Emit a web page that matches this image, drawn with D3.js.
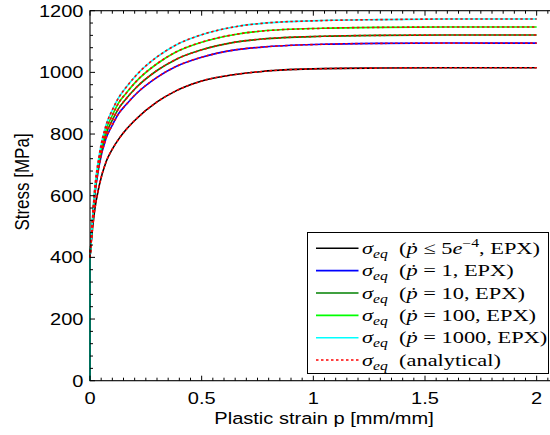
<!DOCTYPE html>
<html>
<head>
<meta charset="utf-8">
<script src="https://cdn.jsdelivr.net/npm/d3@7"></script>
<style>
  body { margin: 0; background: #fff; }
  text { font-family: "Liberation Sans", Arial, sans-serif; }
  .leg text { font-family: "Liberation Serif", "DejaVu Serif", serif; }
</style>
</head>
<body>
<div id="app"></div>
<script>
// plastic strain samples (mm/mm)
const strain = [0, 0.005, 0.02, 0.042, 0.072, 0.1, 0.13, 0.16, 0.206, 0.3, 0.385, 0.5, 0.65, 0.77, 1.04, 1.3, 1.6, 2.0];

// stress (MPa) per strain rate
const stressQuasi = [400, 445, 548, 635, 710, 751, 785, 813, 848, 904, 940, 972, 993, 1003, 1012, 1014, 1015, 1015];
const stressRate1 = [400, 449, 591, 701, 786, 829, 868, 894, 930, 984, 1019, 1049, 1073, 1082, 1091, 1094, 1095, 1095];
const stressRate10 = [400, 451, 598, 712, 800, 845, 885, 913, 950, 1006, 1042, 1073, 1098, 1108, 1117, 1120, 1121, 1121];
const stressRate100 = [400, 453, 605, 723, 815, 861, 903, 931, 970, 1028, 1066, 1098, 1123, 1134, 1143, 1146, 1147, 1147];
const stressRate1000 = [400, 455, 613, 735, 829, 878, 920, 950, 990, 1050, 1089, 1122, 1148, 1159, 1168, 1171, 1173, 1173];

const xTicks = [0, 0.5, 1, 1.5, 2];
const yTicks = [0, 200, 400, 600, 800, 1000, 1200];

const series = [
  { name: "quasi", stress: stressQuasi, color: "#000000", label: ["\u2264 5", "e", "\u22124", ", EPX)"] },
  { name: "r1", stress: stressRate1, color: "#0000ff", label: ["= 1, EPX)"] },
  { name: "r10", stress: stressRate10, color: "#008000", label: ["= 10, EPX)"] },
  { name: "r100", stress: stressRate100, color: "#00ff00", label: ["= 100, EPX)"] },
  { name: "r1000", stress: stressRate1000, color: "#00ffff", label: ["= 1000, EPX)"] }
];

const W = 550, H = 435;
const plot = { left: 90, top: 10.7, right: 559, bottom: 380.7 };
const sx = 1.18; // text looks stretched sideways in the reference
const fsAxis = 17;

const x = d3.scaleLinear().domain([0, 2.1]).range([plot.left, plot.right]);
const y = d3.scaleLinear().domain([0, 1200]).range([plot.bottom, plot.top]);

const svg = d3.select("#app").append("svg")
  .attr("width", W).attr("height", H);

svg.append("rect")
  .attr("x", plot.left).attr("y", plot.top)
  .attr("width", plot.right - plot.left).attr("height", plot.bottom - plot.top)
  .attr("fill", "#fff");

const line = d3.line()
  .x((d) => x(d[0]))
  .y((d) => y(d[1]))
  .curve(d3.curveMonotoneX);

const pts = (s) => strain.map((p, i) => [p, s.stress[i]]);

// EPX curves: elastic vertical part then plastic hardening
const curves = svg.append("g");
series.forEach((s) => {
  curves.append("line")
    .attr("x1", x(0)).attr("x2", x(0))
    .attr("y1", y(0)).attr("y2", y(s.stress[0]))
    .attr("stroke", s.color).attr("stroke-width", 1.6);
  curves.append("path")
    .attr("d", line(pts(s)))
    .attr("fill", "none")
    .attr("stroke", s.color)
    .attr("stroke-width", 1.6);
});

// analytical, red dotted on top
series.forEach((s) => {
  curves.append("path")
    .attr("d", line(pts(s)))
    .attr("fill", "none")
    .attr("stroke", "#ff0000")
    .attr("stroke-width", 1.6)
    .attr("stroke-dasharray", "2.5,2.5");
});

// frame
svg.append("rect")
  .attr("x", plot.left).attr("y", plot.top)
  .attr("width", plot.right - plot.left).attr("height", plot.bottom - plot.top)
  .attr("fill", "none").attr("stroke", "#000").attr("stroke-width", 1.1);

// ticks, inward on all sides
const ax = svg.append("g").attr("stroke", "#000").attr("stroke-width", 1);
d3.range(0, 2.1001, 0.05).forEach((v) => {
  const major = Math.abs(v / 0.5 - Math.round(v / 0.5)) < 1e-6;
  const len = major ? 5 : 3;
  ax.append("line").attr("x1", x(v)).attr("x2", x(v))
    .attr("y1", plot.bottom).attr("y2", plot.bottom - len);
  ax.append("line").attr("x1", x(v)).attr("x2", x(v))
    .attr("y1", plot.top).attr("y2", plot.top + len);
});
d3.range(0, 1200.01, 40).forEach((v) => {
  const major = v % 200 === 0;
  const len = major ? 5 : 3;
  ax.append("line").attr("y1", y(v)).attr("y2", y(v))
    .attr("x1", plot.left).attr("x2", plot.left + len);
});

svg.append("g").selectAll("text").data(xTicks).join("text")
  .attr("transform", (d) => `translate(${x(d)},404) scale(${sx},1)`)
  .attr("text-anchor", "middle").attr("font-size", fsAxis)
  .text((d) => d);

svg.append("g").selectAll("text").data(yTicks).join("text")
  .attr("transform", (d) => `translate(83.5,${y(d) + 6}) scale(${sx},1)`)
  .attr("text-anchor", "end").attr("font-size", fsAxis)
  .text((d) => d);

svg.append("text")
  .attr("transform", `translate(324,424) scale(${sx},1)`)
  .attr("text-anchor", "middle").attr("font-size", fsAxis)
  .text("Plastic strain p [mm/mm]");

svg.append("text")
  .attr("transform", `translate(29.4,182) scale(${sx},1) rotate(-90)`)
  .attr("text-anchor", "middle").attr("font-size", fsAxis)
  .text("Stress [MPa]");

// legend
const leg = svg.append("g").attr("class", "leg");
leg.append("rect")
  .attr("x", 307.5).attr("y", 232.5).attr("width", 241).attr("height", 141)
  .attr("fill", "#fff").attr("stroke", "#000").attr("stroke-width", 1);

const rowY = (i) => 248.3 + i * 22.35;
const fs = 17;
const textX = 362;
const legTexts = [];

function sigmaEq(t) {
  t.append("tspan").attr("font-style", "italic").text("\u03c3");
  t.append("tspan").attr("font-style", "italic").attr("font-size", fs * 0.7)
    .attr("dy", 4).text("eq");
  t.append("tspan").attr("dy", -4).text("\u2002(");
}

series.forEach((s, i) => {
  const yy = rowY(i);
  leg.append("line").attr("x1", 316).attr("x2", 358.5)
    .attr("y1", yy).attr("y2", yy)
    .attr("stroke", s.color).attr("stroke-width", 1.6);
  const t = leg.append("text").attr("font-size", fs).attr("data-y", yy + 5.5);
  sigmaEq(t);
  t.append("tspan").attr("font-style", "italic").text("\u1e57");
  t.append("tspan").text(" " + s.label[0]);
  if (s.label.length > 1) {
    t.append("tspan").attr("font-style", "italic").text(s.label[1]);
    t.append("tspan").attr("font-size", fs * 0.7).attr("dy", -7).text(s.label[2]);
    t.append("tspan").attr("dy", 7).text(s.label[3]);
  }
  legTexts.push(t);
});

const ya = rowY(5);
leg.append("line").attr("x1", 316).attr("x2", 358.5)
  .attr("y1", ya).attr("y2", ya)
  .attr("stroke", "#ff0000").attr("stroke-width", 1.6)
  .attr("stroke-dasharray", "2.5,2.5");
const ta = leg.append("text").attr("font-size", fs).attr("data-y", ya + 5.5);
sigmaEq(ta);
ta.append("tspan").text("analytical)");
legTexts.push(ta);

// stretch legend text so the first entry spans like the reference
const w0 = legTexts[0].node().getComputedTextLength();
const lsx = 178 / w0;
legTexts.forEach((t) => {
  t.attr("transform", `translate(${textX},${t.attr("data-y")}) scale(${lsx},1)`);
});
</script>
</body>
</html>
